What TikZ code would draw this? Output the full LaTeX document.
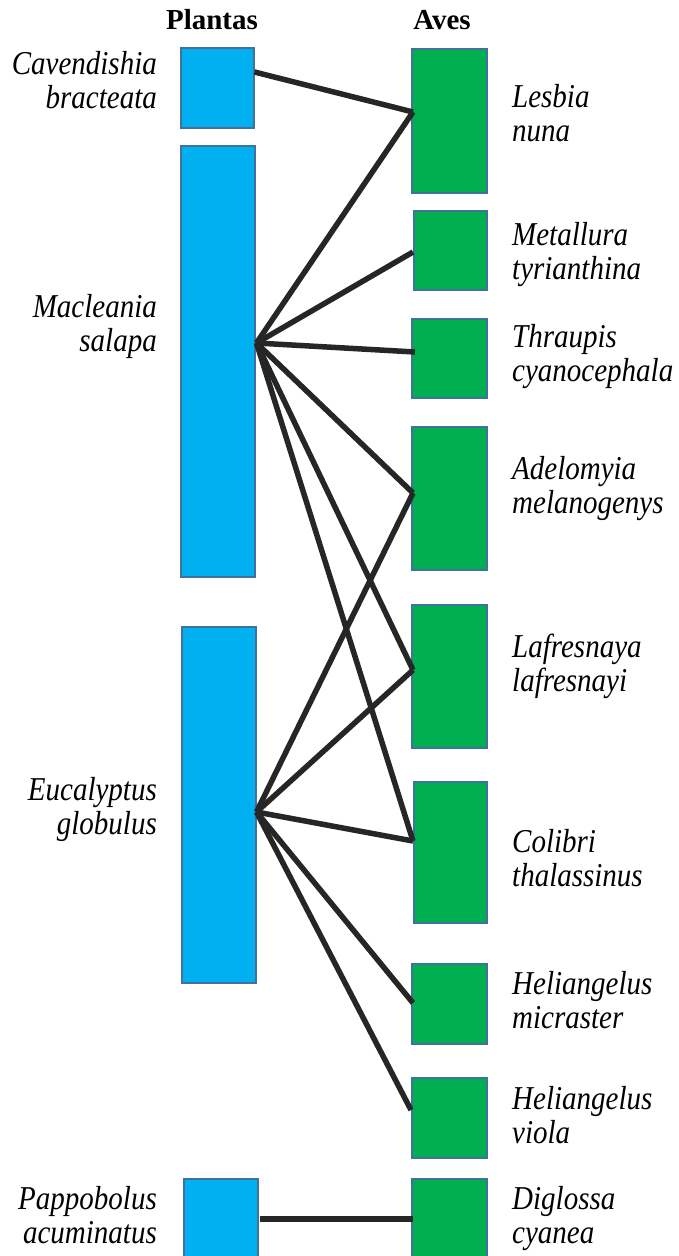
\documentclass[tikz,border=0pt]{standalone}
\usepackage{fontspec}
\setmainfont{Liberation Serif}
\usetikzlibrary{calc}
\definecolor{plantblue}{HTML}{00B0F0}
\definecolor{birdgreen}{HTML}{00B050}
\definecolor{boxedge}{HTML}{41719C}
\definecolor{linkcol}{HTML}{262626}
\tikzset{
  plantbox/.style={draw=boxedge, line width=1.5pt, fill=plantblue, inner sep=0pt, anchor=north west},
  birdbox/.style={draw=boxedge, line width=1.5pt, fill=birdgreen, inner sep=0pt, anchor=north west},
  link/.style={draw=linkcol, line width=5.5pt, line join=round},
  plantlab/.style={inner sep=0pt, anchor=base east, font=\fontsize{29}{29.6}\selectfont\itshape},
  birdlab/.style={inner sep=0pt, anchor=base west, font=\fontsize{29}{29.6}\selectfont\itshape},
  head/.style={inner sep=0pt, anchor=base, font=\fontsize{29}{33}\selectfont\bfseries}
}
\newcommand{\twoR}[2]{\scalebox{1}[1.15]{\begin{tabular}[t]{@{}r@{}}#1\\#2\end{tabular}}}
\newcommand{\twoL}[2]{\scalebox{1}[1.15]{\begin{tabular}[t]{@{}l@{}}#1\\#2\end{tabular}}}
\begin{document}
\begin{tikzpicture}[x=1pt,y=-1pt]
\useasboundingbox (0,0) rectangle (678,1256);
\clip (0,0) rectangle (678,1256);
\fill[white] (0,0) rectangle (678,1256);

% headers
\node[head] (hplant) at (212,29) {Plantas};
\node[head] (hbird) at (442,29) {Aves};

% plant boxes
\node[plantbox, minimum width=73pt, minimum height=80pt] (cav) at (180,47) {};
\node[plantbox, minimum width=74pt, minimum height=431pt] (mac) at (180,145) {};
\node[plantbox, minimum width=74pt, minimum height=356pt] (euc) at (181,626) {};
\node[plantbox, minimum width=74pt, minimum height=100pt] (pap) at (183,1178) {};

% bird boxes
\node[birdbox, minimum width=75pt, minimum height=144pt] (les) at (411,48) {};
\node[birdbox, minimum width=73pt, minimum height=79pt] (met) at (413,210) {};
\node[birdbox, minimum width=75pt, minimum height=79pt] (thr) at (411,318) {};
\node[birdbox, minimum width=75pt, minimum height=143pt] (ade) at (411,426) {};
\node[birdbox, minimum width=75pt, minimum height=143pt] (laf) at (411,604) {};
\node[birdbox, minimum width=73pt, minimum height=141pt] (col) at (413,781) {};
\node[birdbox, minimum width=75pt, minimum height=80pt] (hmi) at (411,963) {};
\node[birdbox, minimum width=75pt, minimum height=80pt] (hvi) at (411,1077) {};
\node[birdbox, minimum width=75pt, minimum height=100pt] (dig) at (411,1178) {};

% plant labels
\node[plantlab] (lcav) at (157,74) {\twoR{Cavendishia}{bracteata}};
\node[plantlab] (lmac) at (157,317) {\twoR{Macleania}{salapa}};
\node[plantlab] (leuc) at (157,800) {\twoR{Eucalyptus}{globulus}};
\node[plantlab] (lpap) at (157,1209) {\twoR{Pappobolus}{acuminatus}};

% bird labels
\node[birdlab] (lles) at (512,107) {\twoL{Lesbia}{nuna}};
\node[birdlab] (lmet) at (512,245) {\twoL{Metallura}{tyrianthina}};
\node[birdlab] (lthr) at (512,347) {\twoL{Thraupis}{cyanocephala}};
\node[birdlab] (lade) at (512,479) {\twoL{Adelomyia}{melanogenys}};
\node[birdlab] (llaf) at (512,657) {\twoL{Lafresnaya}{lafresnayi}};
\node[birdlab] (lcol) at (512,852) {\twoL{Colibri}{thalassinus}};
\node[birdlab] (lhmi) at (512,994) {\twoL{Heliangelus}{micraster}};
\node[birdlab] (lhvi) at (512,1109) {\twoL{Heliangelus}{viola}};
\node[birdlab] (ldig) at (512,1209) {\twoL{Diglossa}{cyanea}};

% connector points
\coordinate (cavS) at ($(cav.north east)+(0,25)$);
\coordinate (macF) at ($(mac.north east)+(1,198)$);
\coordinate (eucF) at ($(euc.north east)+(0,186)$);
\coordinate (papS) at ($(pap.north east)+(1,41)$);
\coordinate (lesE) at ($(les.north west)+(2,64)$);
\coordinate (metE) at ($(met.north west)+(0,42)$);
\coordinate (thrE) at ($(thr.north west)+(4,34)$);
\coordinate (adeE) at ($(ade.north west)+(2,67)$);
\coordinate (lafE) at ($(laf.north west)+(2,66)$);
\coordinate (colE) at ($(col.north west)+(0,60)$);
\coordinate (hmiE) at ($(hmi.north west)+(2,40)$);
\coordinate (hviE) at ($(hvi.north west)+(0,33)$);
\coordinate (digE) at ($(dig.north west)+(2,41)$);

% connectors
\draw[link] (cavS) -- (lesE);
\foreach \t in {lesE,metE,thrE,adeE,lafE,colE}
  \draw[link] (macF) -- (\t);
\foreach \t in {adeE,lafE,colE,hmiE,hviE}
  \draw[link] (eucF) -- (\t);
\draw[link] (papS) -- (digE);
\end{tikzpicture}
\end{document}
